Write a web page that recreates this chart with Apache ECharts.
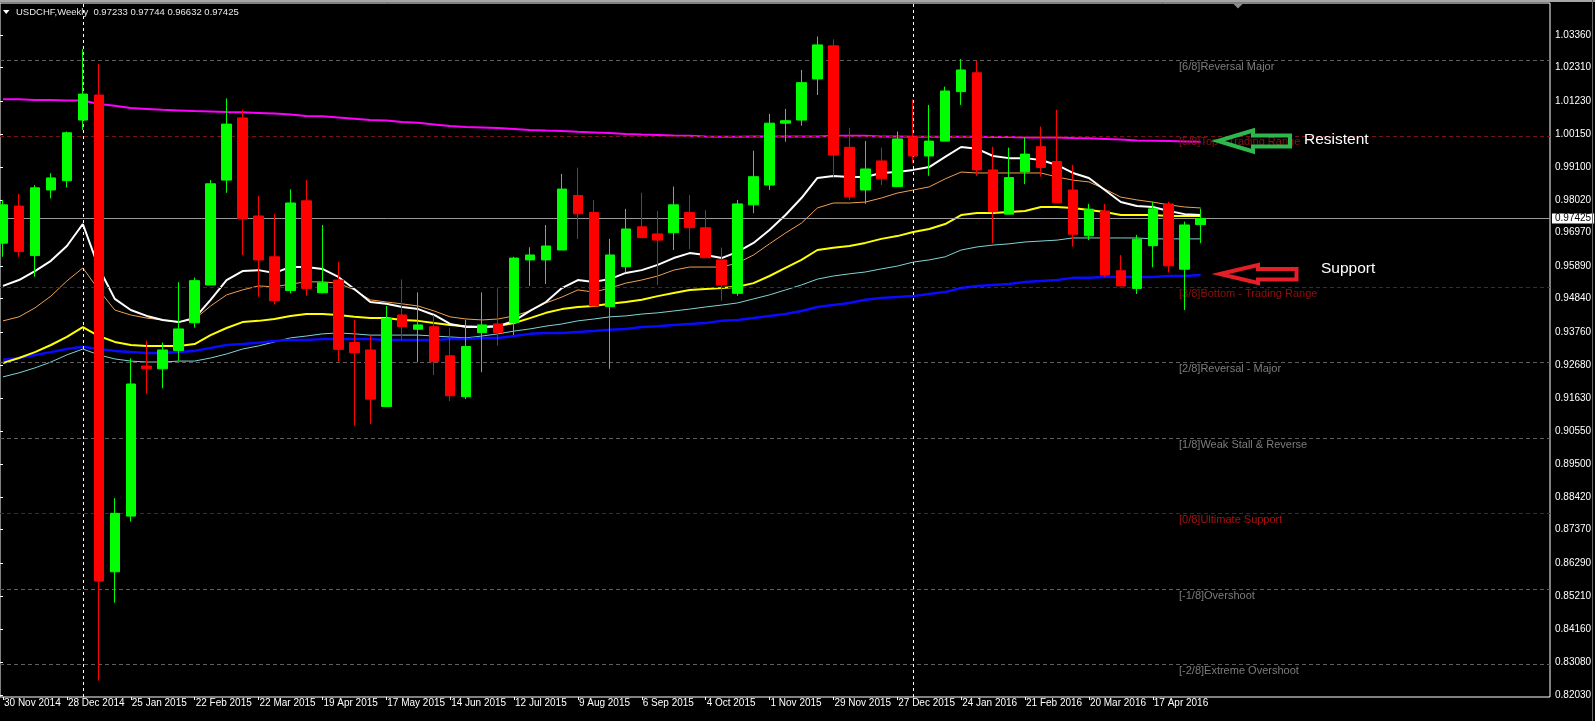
<!DOCTYPE html>
<html>
<head>
<meta charset="utf-8">
<script src="https://cdn.jsdelivr.net/npm/echarts@6/dist/echarts.min.js"></script>
<style>
html,body{margin:0;padding:0;background:#000;}
#c{width:1595px;height:721px;}
</style>
</head>
<body>
<div id="c"></div>
<script>
// ---- data ----
const symbolName = 'USDCHF';
const periodName = 'Weekly';
const firstWeek = [2014, 10, 30]; // 30 Nov 2014
// weekly candles: [open, close, low, high]
const candles = [
[0.9663,0.9787,0.9619,0.9803],[0.9783,0.9636,0.9619,0.9822],[0.9623,0.9842,0.9555,0.9851],[0.9835,0.9874,0.9808,0.9889],
[0.9865,1.0020,0.9843,1.0024],[1.0061,1.0145,1.0029,1.0291],[1.0142,0.8571,0.8249,1.0242],[0.8601,0.8790,0.8501,0.8839],
[0.8781,0.9208,0.8763,0.9291],[0.9266,0.9257,0.9176,0.9348],[0.9257,0.9318,0.9194,0.9342],[0.9316,0.9386,0.9283,0.9537],
[0.9406,0.9542,0.9390,0.9552],[0.9528,0.9855,0.9528,0.9867],[0.9867,1.0048,0.9826,1.0131],[1.0068,0.9742,0.9625,1.0094],
[0.9751,0.9609,0.9490,0.9816],[0.9619,0.9477,0.9465,0.9758],[0.9510,0.9793,0.9501,0.9837],[0.9800,0.9517,0.9493,0.9867],
[0.9503,0.9535,0.9501,0.9722],[0.9544,0.9320,0.9280,0.9603],[0.9342,0.9309,0.9073,0.9415],[0.9318,0.9159,0.9079,0.9363],
[0.9135,0.9420,0.9135,0.9460],[0.9431,0.9393,0.9350,0.9546],[0.9385,0.9399,0.9278,0.9504],[0.9393,0.9280,0.9237,0.9431],
[0.9299,0.9170,0.9153,0.9390],[0.9167,0.9329,0.9159,0.9415],[0.9374,0.9399,0.9246,0.9504],[0.9402,0.9374,0.9332,0.9517],
[0.9407,0.9615,0.9366,0.9619],[0.9609,0.9625,0.9525,0.9650],[0.9609,0.9654,0.9531,0.9722],[0.9641,0.9838,0.9641,0.9887],
[0.9817,0.9758,0.9677,0.9907],[0.9762,0.9460,0.9460,0.9803],[0.9458,0.9625,0.9257,0.9677],[0.9587,0.9709,0.9568,0.9774],
[0.9716,0.9681,0.9681,0.9826],[0.9693,0.9673,0.9528,0.9767],[0.9697,0.9787,0.9641,0.9846],[0.9762,0.9713,0.9644,0.9819],
[0.9713,0.9616,0.9616,0.9770],[0.9609,0.9528,0.9477,0.9649],[0.9501,0.9790,0.9493,0.9803],[0.9787,0.9878,0.9760,0.9962],
[0.9851,1.0051,0.9835,1.0081],[1.0051,1.0059,0.9991,1.0097],[1.0061,1.0182,1.0043,1.0223],[1.0194,1.0304,1.0142,1.0331],
[1.0301,0.9948,0.9878,1.0322],[0.9973,0.9813,0.9803,1.0036],[0.9835,0.9903,0.9790,0.9993],[0.9929,0.9871,0.9851,0.9972],
[0.9846,1.0000,0.9846,1.0024],[1.0007,0.9945,0.9921,1.0128],[0.9945,0.9993,0.9881,1.0110],[0.9993,1.0155,0.9993,1.0169],
[1.0153,1.0223,1.0110,1.0258],[1.0214,0.9900,0.9881,1.0253],[0.9900,0.9765,0.9663,0.9975],[0.9757,0.9875,0.9757,0.9972],
[0.9894,0.9951,0.9854,1.0005],[0.9975,0.9908,0.9878,1.0040],[0.9927,0.9794,0.9794,1.0094],[0.9835,0.9692,0.9652,0.9916],
[0.9687,0.9773,0.9673,0.9790],[0.9767,0.9560,0.9555,0.9790],[0.9574,0.9525,0.9525,0.9625],[0.9517,0.9676,0.9499,0.9690],
[0.9655,0.9774,0.9585,0.9797],[0.9790,0.9590,0.9568,0.9797],[0.9579,0.9722,0.9447,0.9733],[0.97233,0.97425,0.96632,0.97744]
];
const maMagenta = [1.0128,1.0128,1.0126,1.0126,1.0124,1.0124,1.0113,1.0107,1.0100,1.0097,
1.0094,1.0092,1.0090,1.0089,1.0087,1.0086,1.0084,1.0082,1.0079,1.0074,
1.0073,1.0069,1.0065,1.0061,1.0060,1.0055,1.0052,1.0047,1.0042,1.0039,
1.0037,1.0035,1.0032,1.0029,1.0027,1.0026,1.0023,1.0021,1.0019,1.0016,
1.0014,1.0013,1.0011,1.0010,1.0008,1.0007,1.0007,1.0008,1.0008,1.0008,
1.0008,1.0008,1.0010,1.0010,1.0010,1.0008,1.0008,1.0007,1.0007,1.0007,
1.0007,1.0007,1.0006,1.0006,1.0005,1.0005,1.0005,1.0003,1.0002,1.0000,
0.9998,0.9995,0.9994,0.9993,0.9992,0.9991];
const maWhite = [0.9525,0.9544,0.9573,0.9606,0.9654,0.9725,0.9583,0.9483,0.9447,0.9428,
0.9415,0.9408,0.9421,0.9480,0.9544,0.9573,0.9576,0.9567,0.9586,0.9586,
0.9580,0.9554,0.9515,0.9473,0.9467,0.9457,0.9450,0.9431,0.9402,0.9392,
0.9392,0.9395,0.9412,0.9444,0.9473,0.9518,0.9544,0.9538,0.9547,0.9567,
0.9576,0.9593,0.9615,0.9631,0.9625,0.9615,0.9635,0.9664,0.9706,0.9754,
0.9809,0.9874,0.9880,0.9877,0.9877,0.9890,0.9893,0.9900,0.9909,0.9942,
0.9974,0.9968,0.9945,0.9938,0.9938,0.9932,0.9916,0.9890,0.9874,0.9835,
0.9796,0.9783,0.9780,0.9767,0.9757,0.9754];
const maOrange = [0.9412,0.9425,0.9454,0.9492,0.9541,0.9583,0.9512,0.9447,0.9431,0.9421,
0.9415,0.9408,0.9418,0.9460,0.9496,0.9512,0.9525,0.9522,0.9531,0.9538,
0.9538,0.9534,0.9512,0.9480,0.9473,0.9467,0.9460,0.9444,0.9425,0.9418,
0.9415,0.9418,0.9428,0.9444,0.9470,0.9489,0.9512,0.9505,0.9518,0.9534,
0.9544,0.9557,0.9576,0.9586,0.9586,0.9586,0.9599,0.9625,0.9661,0.9696,
0.9728,0.9777,0.9793,0.9793,0.9796,0.9809,0.9825,0.9835,0.9845,0.9871,
0.9893,0.9890,0.9890,0.9890,0.9890,0.9890,0.9877,0.9867,0.9861,0.9838,
0.9812,0.9803,0.9796,0.9787,0.9780,0.9777];
const maYellow = [0.9276,0.9292,0.9311,0.9334,0.9360,0.9392,0.9363,0.9344,0.9334,0.9331,
0.9331,0.9331,0.9337,0.9366,0.9389,0.9408,0.9412,0.9418,0.9428,0.9434,
0.9434,0.9431,0.9425,0.9421,0.9421,0.9415,0.9412,0.9405,0.9399,0.9395,
0.9392,0.9395,0.9405,0.9421,0.9438,0.9450,0.9457,0.9460,0.9467,0.9473,
0.9480,0.9492,0.9502,0.9512,0.9515,0.9518,0.9522,0.9534,0.9557,0.9583,
0.9609,0.9641,0.9648,0.9654,0.9664,0.9677,0.9686,0.9699,0.9709,0.9725,
0.9754,0.9761,0.9761,0.9764,0.9767,0.9780,0.9780,0.9777,0.9770,0.9764,
0.9754,0.9754,0.9754,0.9751,0.9751,0.9751];
const maCyan = [0.9231,0.9244,0.9260,0.9279,0.9302,0.9321,0.9302,0.9289,0.9282,0.9279,
0.9279,0.9282,0.9282,0.9292,0.9305,0.9321,0.9331,0.9344,0.9357,0.9363,
0.9370,0.9373,0.9370,0.9366,0.9366,0.9366,0.9366,0.9363,0.9360,0.9357,
0.9363,0.9370,0.9379,0.9386,0.9395,0.9402,0.9412,0.9418,0.9425,0.9428,
0.9434,0.9438,0.9444,0.9450,0.9457,0.9463,0.9470,0.9483,0.9496,0.9512,
0.9528,0.9547,0.9557,0.9564,0.9570,0.9580,0.9589,0.9602,0.9609,0.9619,
0.9641,0.9651,0.9657,0.9661,0.9667,0.9670,0.9673,0.9680,0.9680,0.9680,
0.9680,0.9680,0.9677,0.9677,0.9677,0.9677];
const maBlue = [0.9286,0.9292,0.9302,0.9311,0.9321,0.9328,0.9321,0.9315,0.9311,0.9308,
0.9308,0.9311,0.9315,0.9324,0.9334,0.9337,0.9341,0.9347,0.9350,0.9350,
0.9353,0.9353,0.9353,0.9353,0.9350,0.9350,0.9350,0.9350,0.9353,0.9353,
0.9357,0.9357,0.9363,0.9370,0.9373,0.9373,0.9376,0.9379,0.9383,0.9386,
0.9392,0.9395,0.9399,0.9402,0.9405,0.9412,0.9415,0.9421,0.9428,0.9434,
0.9444,0.9457,0.9463,0.9470,0.9480,0.9486,0.9489,0.9492,0.9499,0.9505,
0.9518,0.9525,0.9528,0.9531,0.9538,0.9541,0.9544,0.9551,0.9551,0.9554,
0.9554,0.9554,0.9554,0.9557,0.9557,0.9560];
const priceTicks = [1.03360,1.02310,1.01230,1.00150,0.99100,0.98020,0.96970,0.95890,0.94840,0.93760,
0.92680,0.91630,0.90550,0.89500,0.88420,0.87370,0.86290,0.85210,0.84160,0.83080,0.82030];
const murreyLevels = [1.025390625,1.0009765625,0.9521484375,0.927734375,0.9033203125,0.87890625,0.8544921875,0.830078125];
const murreyNames = ['[6/8]Reversal Major','[5/8]Top - Trading Range','[3/8]Bottom - Trading Range','[2/8]Reversal - Major',
'[1/8]Weak Stall & Reverse','[0/8]Ultimate Support','[-1/8]Overshoot','[-2/8]Extreme Overshoot'];
const murreyKinds = ['gray','red','red','gray','gray','red2','gray','gray'];
const yearSeparators = ['4 Jan 2015','3 Jan 2016'];
const annotations = ['Resistent','Support'];

// ---- build ----
const MONTHS = ['Jan','Feb','Mar','Apr','May','Jun','Jul','Aug','Sep','Oct','Nov','Dec'];
const TOTAL_SLOTS = 97;
const t0 = Date.UTC(firstWeek[0], firstWeek[1], firstWeek[2]);
const categories = [];
for (let i = 0; i < TOTAL_SLOTS; i++) {
  const d = new Date(t0 + i * 7 * 86400000);
  categories.push(d.getUTCDate() + ' ' + MONTHS[d.getUTCMonth()] + ' ' + d.getUTCFullYear());
}
const last = candles[candles.length - 1];
const fmt = v => v.toFixed(5);
const headerText = symbolName + ',' + periodName + '  ' + fmt(last[0]) + ' ' + fmt(last[3]) + ' ' + fmt(last[2]) + ' ' + fmt(last[1]);

const FONT = 'Liberation Sans';
const Y_MIN = 0.81963, Y_MAX = 1.04394;
const kindStyle = {
  gray: {line: '#5f5f5f', text: '#7c7c7c'},
  red: {line: '#7a1212', text: '#8f1010'},
  red2: {line: '#7a1212', text: '#a81010'}
};

const murreyData = murreyLevels.map((v, k) => ({
  yAxis: v,
  lineStyle: {color: kindStyle[murreyKinds[k]].line, type: [4, 3], width: 1},
  label: {
    show: true, formatter: murreyNames[k], position: 'insideStartBottom', distance: [1179, 0],
    color: kindStyle[murreyKinds[k]].text, fontSize: 11, fontFamily: FONT, lineHeight: 13
  }
}));
murreyData.push({
  yAxis: last[1],
  lineStyle: {color: '#9a9a9a', type: 'solid', width: 1},
  label: {
    show: true, formatter: fmt(last[1]), position: 'end', distance: 2,
    color: '#000', backgroundColor: '#ffffff', fontSize: 10, fontFamily: FONT,
    padding: [0, 3, 0, 3], lineHeight: 10
  }
});

function maSeries(name, data, color, width) {
  return {
    name, type: 'line', xAxisIndex: 0, yAxisIndex: 0, data, symbol: 'none', smooth: false,
    lineStyle: {color, width}, z: 3, silent: true
  };
}

const chart = echarts.init(document.getElementById('c'), null, {renderer: 'canvas'});
chart.setOption({
  backgroundColor: '#000000',
  animation: false,
  grid: [
    {left: 0, top: 3, width: 16 * (TOTAL_SLOTS - 1), height: 694, show: false},
    {left: -1, top: 3, width: 1551, height: 694, show: true, borderColor: '#ffffff', borderWidth: 1, backgroundColor: 'transparent'}
  ],
  xAxis: [
    {
      type: 'category', gridIndex: 0, data: categories, boundaryGap: false,
      axisLine: {show: false},
      axisTick: {show: true, interval: (i) => i % 4 === 0 && i < candles.length, length: 3, lineStyle: {color: '#ffffff'}},
      axisLabel: {
        show: true, interval: (i) => i % 4 === 0 && i < candles.length,
        formatter: (v, i) => (i < candles.length ? v : ''),
        align: 'left', color: '#ffffff', fontSize: 10, fontFamily: FONT, margin: 1, lineHeight: 11,
        padding: [0, 0, 0, 1]
      },
      splitLine: {show: false}
    },
    {type: 'value', gridIndex: 1, min: 0, max: 1, show: false}
  ],
  yAxis: [
    {type: 'value', gridIndex: 0, min: Y_MIN, max: Y_MAX, show: false},
    {
      type: 'value', gridIndex: 1, min: Y_MIN, max: Y_MAX, position: 'right',
      axisLine: {show: false},
      axisTick: {show: true, customValues: priceTicks, length: 3, lineStyle: {color: '#ffffff'}},
      axisLabel: {show: true, customValues: priceTicks, formatter: v => fmt(v), color: '#ffffff', fontSize: 10, fontFamily: FONT, margin: 5, hideOverlap: false},
      splitLine: {show: false}
    }
  ],
  series: [
    {
      type: 'line', xAxisIndex: 1, yAxisIndex: 1, data: [], symbol: 'none', z: 1, silent: true,
      markLine: {symbol: 'none', silent: true, animation: false, precision: 10, data: murreyData}
    },
    maSeries('MA slow', maMagenta, '#ff00ff', 2),
    maSeries('MA cyan', maCyan, '#7fd4d4', 1),
    maSeries('MA blue', maBlue, '#0a0aff', 2.5),
    maSeries('MA yellow', maYellow, '#ffff00', 2),
    maSeries('MA orange', maOrange, '#f0a050', 1),
    maSeries('MA white', maWhite, '#ffffff', 2),
    {
      type: 'candlestick', xAxisIndex: 0, yAxisIndex: 0, data: candles, barWidth: 10, z: 5, silent: true,
      itemStyle: {color: '#00ff00', color0: '#ff0000', borderColor: '#00ff00', borderColor0: '#ff0000', borderWidth: 1},
      markLine: {
        symbol: 'none', silent: true, animation: false, label: {show: false},
        lineStyle: {color: '#ffffff', type: [3, 3], width: 1},
        data: yearSeparators.map(s => ({xAxis: s}))
      }
    }
  ],
  graphic: [
    {type: 'rect', z: 100, shape: {x: 0, y: 0, width: 1595, height: 2}, style: {fill: '#a6a6a6'}},
    {type: 'rect', z: 100, shape: {x: 1592, y: 0, width: 1, height: 721}, style: {fill: '#6a6a6a'}},
    {type: 'polygon', z: 100, shape: {points: [[3, 10], [9.5, 10], [6.25, 14]]}, style: {fill: '#ffffff'}},
    {type: 'text', z: 100, x: 16, y: 12, style: {text: headerText, fill: '#e8e8e8', font: '9.5px "Liberation Sans"', verticalAlign: 'middle'}},
    {type: 'polygon', z: 100, shape: {points: [[1233, 3.5], [1243, 3.5], [1238, 8.5]]}, style: {fill: '#8c8c8c'}},
    {type: 'polygon', z: 100, shape: {points: [[1218, 141], [1253, 130.5], [1253, 135.5], [1290, 135.5], [1290, 146.5], [1253, 146.5], [1253, 151.5]]},
      style: {fill: 'none', stroke: '#2fb64c', lineWidth: 4, lineJoin: 'miter'}},
    {type: 'text', z: 100, x: 1304, y: 140, style: {text: annotations[0], fill: '#ffffff', font: '15.5px "Liberation Sans"', verticalAlign: 'middle'}},
    {type: 'polygon', z: 100, shape: {points: [[1220, 274], [1258, 265], [1258, 269], [1296.5, 269], [1296.5, 279.5], [1258, 279.5], [1258, 283]]},
      style: {fill: 'none', stroke: '#e61e28', lineWidth: 4, lineJoin: 'miter'}},
    {type: 'text', z: 100, x: 1321, y: 269, style: {text: annotations[1], fill: '#ffffff', font: '15.5px "Liberation Sans"', verticalAlign: 'middle'}}
  ]
});
</script>
</body>
</html>
